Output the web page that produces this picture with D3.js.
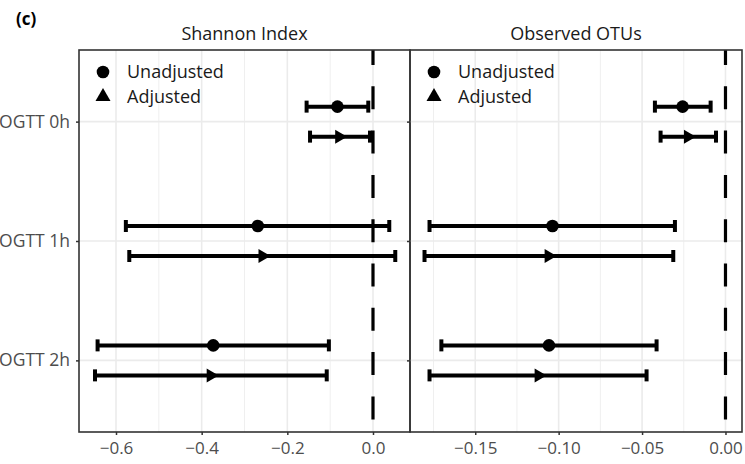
<!DOCTYPE html>
<html>
<head>
<meta charset="utf-8">
<script src="https://cdn.jsdelivr.net/npm/d3@7"></script>
<style>
  html, body { margin: 0; padding: 0; background: #fff; }
  svg text { font-family: "Open Sans", "Noto Sans", sans-serif; }
</style>
</head>
<body>
<svg id="chart" width="745" height="464"></svg>
<script>
// ---- data ----
const categories = ["OGTT 0h", "OGTT 1h", "OGTT 2h"];
const panels = ["Shannon Index", "Observed OTUs"];
const models = ["Unadjusted", "Adjusted"];

// Shannon Index: estimate, lower, upper
const shannonUnadjEst = [-0.083, -0.269, -0.373];
const shannonUnadjLo  = [-0.155, -0.577, -0.643];
const shannonUnadjHi  = [-0.011,  0.038, -0.103];
const shannonAdjEst   = [-0.079, -0.258, -0.379];
const shannonAdjLo    = [-0.147, -0.569, -0.649];
const shannonAdjHi    = [-0.007,  0.052, -0.108];

// Observed OTUs: estimate, lower, upper
const otuUnadjEst = [-0.0257, -0.1037, -0.1058];
const otuUnadjLo  = [-0.0423, -0.1774, -0.1703];
const otuUnadjHi  = [-0.0089, -0.0303, -0.0413];
const otuAdjEst   = [-0.0225, -0.1060, -0.1120];
const otuAdjLo    = [-0.0389, -0.1804, -0.1774];
const otuAdjHi    = [-0.0057, -0.0313, -0.0473];

const shannonTicks = [-0.6, -0.4, -0.2, 0.0];
const shannonMinor = [-0.5, -0.3, -0.1];
const shannonDomain = [-0.6864, 0.0864];
const otuTicks = [-0.15, -0.10, -0.05, 0.00];
const otuMinor = [-0.175, -0.125, -0.075, -0.025];
const otuDomain = [-0.1891, 0.0099];

function rows(est, lo, hi, model) {
  return categories.map((c, i) => ({ cat: c, est: est[i], lo: lo[i], hi: hi[i], model }));
}
const panelData = [
  { title: panels[0], domain: shannonDomain, ticks: shannonTicks, minor: shannonMinor, fmt: d3.format(".1f"),
    data: rows(shannonUnadjEst, shannonUnadjLo, shannonUnadjHi, models[0])
      .concat(rows(shannonAdjEst, shannonAdjLo, shannonAdjHi, models[1])) },
  { title: panels[1], domain: otuDomain, ticks: otuTicks, minor: otuMinor, fmt: d3.format(".2f"),
    data: rows(otuUnadjEst, otuUnadjLo, otuUnadjHi, models[0])
      .concat(rows(otuAdjEst, otuAdjLo, otuAdjHi, models[1])) }
];

// ---- layout ----
const svg = d3.select("#chart");
const pTop = 50, pBottom = 432;
const panelX = [[79, 410], [410, 742]];
const dodge = { "Unadjusted": -15, "Adjusted": 15 };
const minus = s => s.replace("-", "\u2212");

const y = d3.scalePoint().domain(categories).range([pTop, pBottom]).padding(0.6);

svg.append("text").attr("x", 16).attr("y", 25)
  .attr("font-size", 17).attr("font-weight", "bold").attr("fill", "#000").text("(c)");

const triPath = "M8,0 L-4,-7 L-4,7 Z";

panelData.forEach((p, pi) => {
  const [x0, x1] = panelX[pi];
  const x = d3.scaleLinear().domain(p.domain).range([x0, x1]);
  const g = svg.append("g");

  // grid
  g.selectAll(".minor").data(p.minor).join("line")
    .attr("x1", d => x(d)).attr("x2", d => x(d)).attr("y1", pTop).attr("y2", pBottom)
    .attr("stroke", "#EFEFEF").attr("stroke-width", 1);
  g.selectAll(".major").data(p.ticks).join("line")
    .attr("x1", d => x(d)).attr("x2", d => x(d)).attr("y1", pTop).attr("y2", pBottom)
    .attr("stroke", "#EBEBEB").attr("stroke-width", 1.6);
  g.selectAll(".hmajor").data(categories).join("line")
    .attr("x1", x0).attr("x2", x1).attr("y1", d => y(d)).attr("y2", d => y(d))
    .attr("stroke", "#EBEBEB").attr("stroke-width", 1.6);

  // reference dashed line at 0
  g.append("line").attr("x1", x(0)).attr("x2", x(0)).attr("y1", pTop).attr("y2", pBottom)
    .attr("stroke", "#000").attr("stroke-width", 3.2)
    .attr("stroke-dasharray", "23,21.3").attr("stroke-dashoffset", 8);

  // error bars
  const eb = g.selectAll(".eb").data(p.data).join("g")
    .attr("transform", d => `translate(0,${y(d.cat) + dodge[d.model]})`);
  eb.append("line").attr("x1", d => x(d.lo)).attr("x2", d => x(d.hi))
    .attr("y1", 0).attr("y2", 0).attr("stroke", "#000").attr("stroke-width", 4);
  eb.append("line").attr("x1", d => x(d.lo)).attr("x2", d => x(d.lo))
    .attr("y1", -6).attr("y2", 6).attr("stroke", "#000").attr("stroke-width", 4);
  eb.append("line").attr("x1", d => x(d.hi)).attr("x2", d => x(d.hi))
    .attr("y1", -6).attr("y2", 6).attr("stroke", "#000").attr("stroke-width", 4);
  eb.filter(d => d.model === "Unadjusted").append("circle")
    .attr("cx", d => x(d.est)).attr("cy", 0).attr("r", 6.3).attr("fill", "#000");
  eb.filter(d => d.model === "Adjusted").append("path")
    .attr("d", triPath).attr("transform", d => `translate(${x(d.est)},0)`).attr("fill", "#000");

  // legend
  const lg = g.append("g").attr("transform", `translate(${x0 + 24},0)`);
  lg.append("circle").attr("cx", 0).attr("cy", 72).attr("r", 6.3).attr("fill", "#000");
  lg.append("path").attr("d", "M0,-8 L7.5,5 L-7.5,5 Z").attr("transform", "translate(0,96)").attr("fill", "#000");
  lg.append("text").attr("x", 24).attr("y", 78).attr("font-size", 18).attr("fill", "#1A1A1A").text(models[0]);
  lg.append("text").attr("x", 24).attr("y", 103).attr("font-size", 18).attr("fill", "#1A1A1A").text(models[1]);

  // axes
  const xa = g.append("g").attr("transform", `translate(0,${pBottom})`)
    .call(d3.axisBottom(x).tickValues(p.ticks).tickSize(3).tickFormat(d => minus(p.fmt(d))));
  xa.select(".domain").remove();
  xa.selectAll(".tick line").attr("stroke", "#333").attr("stroke-width", 1.5);
  xa.selectAll(".tick text").attr("font-size", 17).attr("fill", "#4D4D4D").attr("y", 10)
    .attr("font-family", "'Open Sans', sans-serif");

  const ya = g.append("g").attr("transform", `translate(${x0},0)`)
    .call(d3.axisLeft(y).tickSize(3).tickFormat(pi === 0 ? (d => d) : (() => "")));
  ya.select(".domain").remove();
  ya.selectAll(".tick line").attr("stroke", "#333").attr("stroke-width", 1.5);
  ya.selectAll(".tick text").attr("font-size", 17.5).attr("fill", "#4D4D4D").attr("x", -9)
    .attr("font-family", "'Open Sans', sans-serif");

  // panel border
  g.append("rect").attr("x", x0).attr("y", pTop).attr("width", x1 - x0).attr("height", pBottom - pTop)
    .attr("fill", "none").attr("stroke", "#333").attr("stroke-width", 1.6);

  // strip title
  g.append("text").attr("x", (x0 + x1) / 2).attr("y", 40).attr("text-anchor", "middle")
    .attr("font-size", 18).attr("fill", "#1A1A1A").text(p.title);
});
</script>
</body>
</html>
